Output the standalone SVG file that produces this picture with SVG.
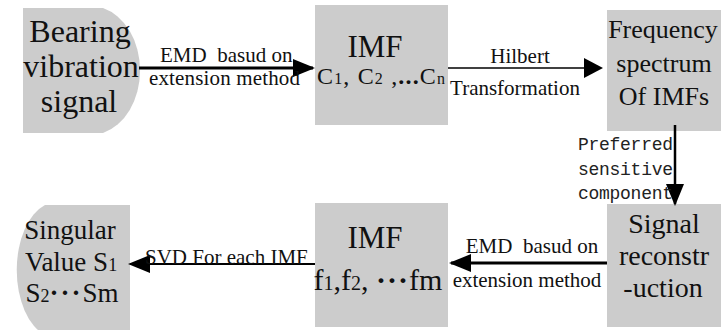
<svg xmlns="http://www.w3.org/2000/svg" width="721" height="330" viewBox="0 0 721 330">
<style>
.box{fill:#cccccc;stroke:none}
.t{fill:#111;text-anchor:middle}
.lbl{fill:#111;font-size:21px;white-space:pre}
.mono{fill:#222;font-size:18px}
.c{stroke:#000;fill:none}
</style>
<defs>
<marker id="big" markerUnits="userSpaceOnUse" markerWidth="22" markerHeight="18" refX="20" refY="9" orient="auto">
<path d="M0,0 L22,9 L0,18 Z" fill="#000"/>
</marker>
<marker id="thin" markerUnits="userSpaceOnUse" markerWidth="19" markerHeight="20" refX="17" refY="10" orient="auto">
<path d="M0,0 L19,10 L0,20 Z" fill="#000"/>
</marker>
</defs>
<rect width="721" height="330" fill="#fff"/>

<g id="n1">
<path class="box" d="M23,8 H103 A50 64.7 0 0 1 103,133 H23 Z"/>
<text class="t" font-family="Liberation Serif" x="80" y="42" font-size="32">Bearing</text>
<text class="t" font-family="Liberation Serif" x="81" y="77" font-size="32">vibration</text>
<text class="t" font-family="Liberation Serif" x="79" y="112" font-size="32">signal</text>
</g>

<g id="n2">
<rect class="box" x="315" y="5" width="133" height="120"/>
<text class="t" font-family="Liberation Serif" x="375" y="57" font-size="31">IMF</text>
<text class="t" font-family="Liberation Serif" x="381" y="84" font-size="24" textLength="128">C<tspan font-size="16">1</tspan>, C<tspan font-size="16">2</tspan> ,<tspan font-weight="bold">...</tspan>C<tspan font-size="16">n</tspan></text>
</g>

<g id="n3">
<rect class="box" x="607" y="10" width="114" height="121"/>
<text class="t" font-family="Liberation Serif" x="663" y="38" font-size="26">Frequency</text>
<text class="t" font-family="Liberation Serif" x="664" y="72" font-size="26">spectrum</text>
<text class="t" font-family="Liberation Serif" x="664" y="105" font-size="26">Of IMFs</text>
</g>

<g id="n4">
<rect class="box" x="607" y="204" width="114" height="123"/>
<text class="t" font-family="Liberation Serif" x="664" y="233" font-size="28">Signal</text>
<text class="t" font-family="Liberation Serif" x="664" y="265" font-size="28">reconstr</text>
<text class="t" font-family="Liberation Serif" x="663" y="297" font-size="28">-uction</text>
</g>

<g id="n5">
<rect class="box" x="315" y="203" width="133" height="124"/>
<text class="t" font-family="Liberation Serif" x="375" y="248" font-size="31">IMF</text>
<text class="t" font-family="Liberation Serif" x="378" y="290" font-size="30">f<tspan font-size="20">1</tspan>,f<tspan font-size="20">2</tspan>, <tspan font-weight="bold" letter-spacing="1">···</tspan>fm</text>
</g>

<g id="n6">
<path class="box" d="M130,205 H45 A40 68 0 0 0 45,335 H130 Z"/>
<text class="t" font-family="Liberation Serif" x="70" y="239" font-size="27">Singular</text>
<text class="t" font-family="Liberation Serif" x="71" y="271" font-size="27">Value S<tspan font-size="18">1</tspan></text>
<text class="t" font-family="Liberation Serif" x="72" y="302" font-size="27">S<tspan font-size="18">2</tspan><tspan font-weight="bold" letter-spacing="2">···</tspan>Sm</text>
</g>

<g id="connectors">
<line class="c" x1="139" y1="68" x2="313" y2="68" stroke-width="3" marker-end="url(#big)"/>
<text class="lbl" font-family="Liberation Serif" x="160" y="62" font-size="20.5">EMD  basud on</text>
<text class="lbl" font-family="Liberation Serif" x="149" y="85" font-size="20.5" textLength="151">extension method</text>

<line class="c" x1="448" y1="68" x2="601" y2="68" stroke-width="1.5" marker-end="url(#thin)"/>
<text class="lbl" font-family="Liberation Serif" x="520" y="63" text-anchor="middle">Hilbert</text>
<text class="lbl" font-family="Liberation Serif" x="515" y="95" text-anchor="middle">Transformation</text>

<line class="c" x1="675" y1="125" x2="675" y2="204" stroke-width="2.5" marker-end="url(#big)"/>
<text class="mono" font-family="Liberation Mono" x="578" y="150" textLength="95">Preferred</text>
<text class="mono" font-family="Liberation Mono" x="578" y="175" textLength="95">sensitive</text>
<text class="mono" font-family="Liberation Mono" x="578" y="199" textLength="95">component</text>

<line class="c" x1="607" y1="263" x2="451" y2="263" stroke-width="3" marker-end="url(#big)"/>
<text class="lbl" font-family="Liberation Serif" x="532" y="253" text-anchor="middle">EMD  basud on</text>
<text class="lbl" font-family="Liberation Serif" x="527" y="287" text-anchor="middle">extension method</text>

<line class="c" x1="315" y1="264" x2="130" y2="264" stroke-width="2" marker-end="url(#big)"/>
<text class="lbl" font-family="Liberation Serif" x="145" y="264" font-size="21.5">SVD For each IMF</text>
</g>
</svg>
